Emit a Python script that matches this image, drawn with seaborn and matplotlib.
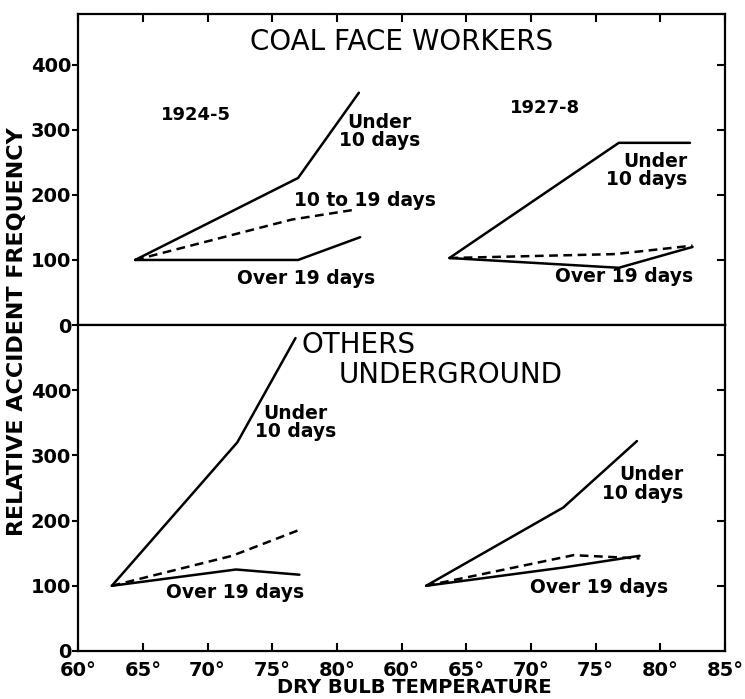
import pandas as pd
import seaborn as sns
import matplotlib.pyplot as plt

# temperatures (deg F) and relative accident frequency
# coal face workers, 1924-5
cf24_under_t = [64.4, 77.0, 81.7]
cf24_under_v = [100, 226, 357]
cf24_mid_t = [64.4, 76.5, 81.3]
cf24_mid_v = [100, 162, 177]
cf24_over_t = [64.4, 77.0, 81.8]
cf24_over_v = [100, 100, 135]
# coal face workers, 1927-8
cf27_under_t = [63.7, 76.8, 82.3]
cf27_under_v = [103, 280, 280]
cf27_mid_t = [63.7, 76.5, 82.5]
cf27_mid_v = [103, 109, 122]
cf27_over_t = [63.7, 76.8, 82.5]
cf27_over_v = [103, 88, 120]
# others underground, 1924-5
ou24_under_t = [62.6, 72.3, 76.8]
ou24_under_v = [100, 320, 480]
ou24_mid_t = [62.6, 71.9, 77.0]
ou24_mid_v = [100, 146, 185]
ou24_over_t = [62.6, 72.2, 77.1]
ou24_over_v = [100, 125, 117]
# others underground, 1927-8
ou27_under_t = [61.9, 72.5, 78.2]
ou27_under_v = [100, 220, 322]
ou27_mid_t = [61.9, 73.3, 78.4]
ou27_mid_v = [100, 147, 142]
ou27_over_t = [61.9, 72.5, 78.4]
ou27_over_v = [100, 128, 146]

tick_labels = ["60°", "65°", "70°", "75°", "80°", "60°", "65°", "70°", "75°", "80°", "85°"]
y_ticks = [0, 100, 200, 300, 400]

# second period is drawn 25 degrees further along the same axis
SHIFT = 25


def make_frame(series):
    rows = []
    for name, kind, shift, temps, vals in series:
        for t, v in zip(temps, vals):
            rows.append({"x": t + shift, "freq": v, "unit": name, "kind": kind})
    return pd.DataFrame(rows)


top_df = make_frame([
    ("24u", "under", 0, cf24_under_t, cf24_under_v),
    ("24m", "mid", 0, cf24_mid_t, cf24_mid_v),
    ("24o", "over", 0, cf24_over_t, cf24_over_v),
    ("27u", "under", SHIFT, cf27_under_t, cf27_under_v),
    ("27m", "mid", SHIFT, cf27_mid_t, cf27_mid_v),
    ("27o", "over", SHIFT, cf27_over_t, cf27_over_v),
])
bot_df = make_frame([
    ("24u", "under", 0, ou24_under_t, ou24_under_v),
    ("24m", "mid", 0, ou24_mid_t, ou24_mid_v),
    ("24o", "over", 0, ou24_over_t, ou24_over_v),
    ("27u", "under", SHIFT, ou27_under_t, ou27_under_v),
    ("27m", "mid", SHIFT, ou27_mid_t, ou27_mid_v),
    ("27o", "over", SHIFT, ou27_over_t, ou27_over_v),
])

sns.set_style("ticks")
plt.rcParams['font.family'] = ['DejaVu Sans']
plt.rcParams.update({
    'axes.linewidth': 1.6,
    'axes.edgecolor': 'black',
    'text.color': 'black',
    'xtick.color': 'black',
    'ytick.color': 'black',
})

fig = plt.figure(figsize=(7.45, 6.99), dpi=100)
ax_top = fig.add_axes([0.105, 0.535, 0.868, 0.445])
ax_bot = fig.add_axes([0.105, 0.0687, 0.868, 0.4663], sharex=ax_top)

dash_map = {"under": "", "mid": (3.5, 2.2), "over": ""}
for ax, df in [(ax_top, top_df), (ax_bot, bot_df)]:
    sns.lineplot(data=df, x="x", y="freq", units="unit", estimator=None,
                 style="kind", dashes=dash_map, color="black", lw=1.8,
                 legend=False, ax=ax)
    ax.set_xlabel("")
    ax.set_ylabel("")
    ax.set_yticks(y_ticks)
    ax.set_yticklabels([str(v) for v in y_ticks], fontsize=14, fontweight="bold")
    ax.tick_params(axis="y", direction="out", length=4, width=1.5, pad=1)
    sec = ax.secondary_yaxis("right")
    sec.set_yticks(y_ticks[1:])
    sec.tick_params(direction="in", length=6, width=1.5, labelright=False)
    for s in sec.spines.values():
        s.set_visible(False)

ax_top.set_xlim(60, 110)
ax_top.set_ylim(0, 478)
ax_bot.set_ylim(0, 500)
ax_bot.set_xticks(range(60, 111, 5))
ax_bot.set_xticklabels(tick_labels, fontsize=14, fontweight="bold")
ax_top.tick_params(axis="x", direction="in", top=True, bottom=False,
                   labelbottom=False, length=6, width=1.5)
ax_bot.tick_params(axis="x", direction="in", top=False, bottom=True,
                   length=6, width=1.5, pad=7)

lab = dict(fontsize=13.5, fontweight="bold", va="center")
# top panel text
ax_top.text(85, 435, "COAL FACE WORKERS", fontsize=20, ha="center", va="center")
ax_top.text(69.1, 323, "1924-5", fontsize=13, fontweight="bold", ha="center", va="center")
ax_top.text(96.1, 334, "1927-8", fontsize=13, fontweight="bold", ha="center", va="center")
ax_top.text(83.3, 297, "Under\n10 days", ha="center", linespacing=0.95, **lab)
ax_top.text(82.2, 192, "10 to 19 days", ha="center", **lab)
ax_top.text(77.6, 72, "Over 19 days", ha="center", **lab)
ax_top.text(107.1, 238, "Under\n10 days", ha="right", multialignment="right",
            linespacing=0.95, **lab)
ax_top.text(102.2, 74, "Over 19 days", ha="center", **lab)

# bottom panel text
ax_bot.text(77.3, 469, "OTHERS", fontsize=20, ha="left", va="center")
ax_bot.text(80.1, 423, "UNDERGROUND", fontsize=20, ha="left", va="center")
ax_bot.text(76.8, 351, "Under\n10 days", ha="center", linespacing=0.95, **lab)
ax_bot.text(72.1, 90, "Over 19 days", ha="center", **lab)
ax_bot.text(106.8, 256, "Under\n10 days", ha="right", multialignment="right",
            linespacing=0.95, **lab)
ax_bot.text(100.3, 97, "Over 19 days", ha="center", **lab)

fig.text(0.023, 0.526, "RELATIVE ACCIDENT FREQUENCY", rotation=90,
         fontsize=16, fontweight="bold", ha="center", va="center")
fig.text(0.556, 0.016, "DRY BULB TEMPERATURE", fontsize=14,
         fontweight="bold", ha="center", va="center")

fig.savefig("out.png", dpi=100)
